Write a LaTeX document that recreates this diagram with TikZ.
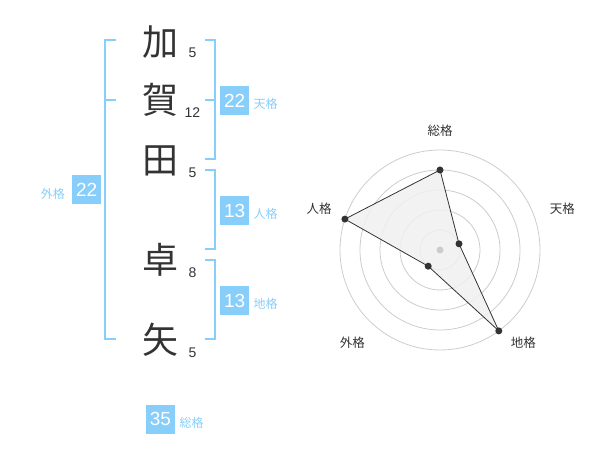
\documentclass[tikz,border=0pt]{standalone}
\usepackage{fontspec}
\setmainfont{Liberation Sans}
\newfontfamily\cjk{Noto Sans CJK JP}
\definecolor{sky}{HTML}{87CEFA}
\definecolor{ink}{HTML}{333333}
\definecolor{ring}{HTML}{CCCCCC}
\definecolor{area}{HTML}{F0F0F0}
\tikzset{
  kanji/.style={inner sep=0pt, text=ink, font=\cjk\fontsize{36}{36}\selectfont},
  strokes/.style={inner sep=0pt, text=ink, font=\fontsize{14}{14}\selectfont},
  scorebox/.style={fill=sky, text=white, minimum width=29pt, minimum height=29pt, inner sep=0pt, font=\fontsize{19}{19}\selectfont},
  scorelabel/.style={inner sep=0pt, text=sky, font=\cjk\fontsize{12}{12}\selectfont},
  bracket/.style={draw=sky, line width=2pt},
  ringline/.style={draw=ring, line width=0.8pt},
  radarlabel/.style={inner sep=0pt, text=ink, font=\cjk\fontsize{12.5}{12.5}\selectfont},
  dot/.style={circle, fill=ink, inner sep=0pt, minimum size=7pt},
}
\begin{document}
\begin{tikzpicture}[x=1pt,y=-1pt]
\useasboundingbox (0,0) rectangle (600,470);
% name characters
\node[kanji] (k1) at (160,42) {加};
\node[kanji] (k2) at (160,100) {賀};
\node[kanji] (k3) at (160,161) {田};
\node[kanji] (k4) at (160,260) {卓};
\node[kanji] (k5) at (160,340) {矢};
% stroke counts
\node[strokes] (s1) at (192.5,52.3) {5};
\node[strokes] (s2) at (192.5,112.7) {12};
\node[strokes] (s3) at (192.5,172.7) {5};
\node[strokes] (s4) at (192.5,272.3) {8};
\node[strokes] (s5) at (192.5,352.3) {5};
% left bracket (gaikaku)
\draw[bracket] (116,40) -- (105,40) -- (105,339.5) -- (116,339.5);
\draw[bracket] (105,100) -- (116,100);
% right brackets
\draw[bracket] (205,40) -- (214.5,40) -- (214.5,159.5) -- (205,159.5);
\draw[bracket] (214.5,100) -- (205,100);
\draw[bracket] (205,170) -- (214.5,170) -- (214.5,249.5) -- (205,249.5);
\draw[bracket] (205,260) -- (214.5,260) -- (214.5,339.5) -- (205,339.5);
% score boxes
\node[scorebox] (ten) at (234.7,100.5) {22};
\node[scorelabel, anchor=west] (tenl) at (253.5,104) {天格};
\node[scorebox] (jin) at (234.7,210.5) {13};
\node[scorelabel, anchor=west] (jinl) at (253.5,214) {人格};
\node[scorebox] (chi) at (234.7,300.5) {13};
\node[scorelabel, anchor=west] (chil) at (253.5,304) {地格};
\node[scorebox] (gai) at (86.7,190) {22};
\node[scorelabel, anchor=east] (gail) at (65,194) {外格};
\node[scorebox] (sou) at (160.5,419) {35};
\node[scorelabel, anchor=west] (soul) at (179.5,422.5) {総格};
% radar chart
\coordinate (c) at (440,250);
\foreach \r in {20,40,60,80,100} \draw[ringline] (c) circle[radius=\r];
\coordinate (pS) at (440,170);
\coordinate (pT) at (459.0,243.8);
\coordinate (pC) at (498.8,330.9);
\coordinate (pG) at (428.2,266.2);
\coordinate (pJ) at (344.9,219.1);
\fill[area, opacity=0.85] (pS) -- (pT) -- (pC) -- (pG) -- (pJ) -- cycle;
\draw[ink, line width=0.8pt] (pS) -- (pT) -- (pC) -- (pG) -- (pJ) -- cycle;
\node[circle, fill=ring, inner sep=0pt, minimum size=7pt] (cd) at (c) {};
\foreach \p in {pS,pT,pC,pG,pJ} \node[dot] at (\p) {};
\node[radarlabel] (lS) at (440,130.7) {総格};
\node[radarlabel] (lT) at (562.3,209) {天格};
\node[radarlabel] (lJ) at (319,209) {人格};
\node[radarlabel] (lG) at (352.3,342.3) {外格};
\node[radarlabel] (lC) at (523.3,342.3) {地格};
\end{tikzpicture}
\end{document}
